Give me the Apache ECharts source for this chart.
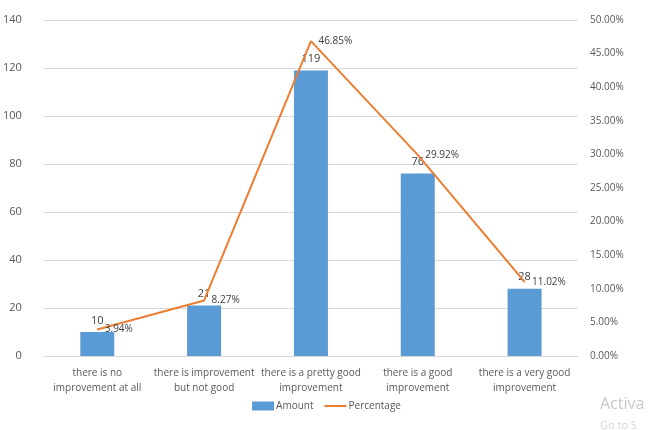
<!DOCTYPE html>
<html>
<head>
<meta charset="utf-8">
<script src="https://cdn.jsdelivr.net/npm/echarts@6/dist/echarts.min.js"></script>
<style>
  html, body { margin: 0; padding: 0; background: #fff; }
  #myChart { width: 653px; height: 430px; }
</style>
</head>
<body>
<div id="myChart"></div>
<script>
var categories = [
  "there is no\nimprovement at all",
  "there is improvement\nbut not good",
  "there is a pretty good\nimprovement",
  "there is a good\nimprovement",
  "there is a very good\nimprovement"
];
var amounts = [10, 21, 119, 76, 28];
var percentages = [3.94, 8.27, 46.85, 29.92, 11.02];

var textColor = "#595959";
var myChart = echarts.init(document.getElementById("myChart"));

myChart.setOption({
  animation: false,
  textStyle: { fontFamily: "Open Sans, Liberation Sans, sans-serif" },
  grid: { left: 41, right: 75, top: 20, bottom: 74 },
  legend: {
    bottom: 14,
    left: "center",
    itemWidth: 22,
    itemHeight: 9,
    itemGap: 10,
    textStyle: { color: textColor, fontSize: 10, padding: [0, 0, 0, -3] },
    data: [
      { name: "Amount", icon: "rect" },
      { name: "Percentage", itemStyle: { opacity: 0 } }
    ]
  },
  xAxis: {
    type: "category",
    data: categories,
    axisTick: { show: false },
    axisLine: { lineStyle: { color: "#d9d9d9" } },
    axisLabel: { color: textColor, fontSize: 10, lineHeight: 15, margin: 10, interval: 0 }
  },
  yAxis: [
    {
      type: "value",
      min: 0, max: 140, interval: 20,
      axisLabel: { color: textColor, fontSize: 11, margin: 22 },
      splitLine: { lineStyle: { color: "#d9d9d9" } }
    },
    {
      type: "value",
      min: 0, max: 50, interval: 5,
      axisLabel: {
        color: textColor, fontSize: 10, margin: 12,
        formatter: function (v) { return v.toFixed(2) + "%"; }
      },
      splitLine: { show: false }
    }
  ],
  series: [
    {
      name: "Amount",
      type: "bar",
      data: amounts,
      barWidth: 34,
      itemStyle: { color: "#5b9bd5" },
      label: {
        show: true, position: "top", distance: 6,
        color: "#404040", fontSize: 11
      }
    },
    {
      name: "Percentage",
      type: "line",
      yAxisIndex: 1,
      data: percentages,
      symbol: "circle",
      symbolSize: 1,
      lineStyle: { color: "#ed7d31", width: 2 },
      itemStyle: { color: "#ed7d31" },
      label: {
        show: true, position: "right", distance: 7, offset: [0, 2],
        color: "#404040", fontSize: 10,
        formatter: function (p) { return p.value.toFixed(2) + "%"; }
      },
      labelLayout: { hideOverlap: false }
    }
  ],
  graphic: [
    {
      type: "text", left: 600, top: 396,
      style: { text: "Activa", fill: "#c8c8c8", font: "16px Open Sans, sans-serif" }
    },
    {
      type: "text", left: 600, top: 420,
      style: { text: "Go to S", fill: "#d6d6d6", font: "11px Open Sans, sans-serif" }
    }
  ]
});
</script>
</body>
</html>
